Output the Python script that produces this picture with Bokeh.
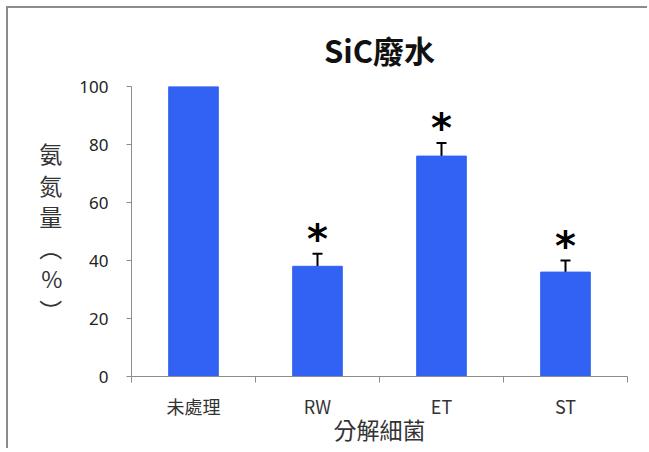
from bokeh.plotting import figure
from bokeh.models import FixedTicker, Whisker, ColumnDataSource, TeeHead, Range1d, Title
from bokeh.core.properties import value
from bokeh.embed import file_html
from bokeh.resources import INLINE

categories = ["未處理", "RW", "ET", "ST"]
values = [100, 38, 76, 36]
errors = [0, 4.3, 4.5, 4.0]
significant = [False, True, True, True]
y_ticks = [0, 20, 40, 60, 80, 100]

xs = [i + 0.5 for i in range(len(categories))]
upper = [v + e for v, e in zip(values, errors)]
lower = [v - e for v, e in zip(values, errors)]

src = ColumnDataSource(dict(x=xs, top=values, upper=upper, lower=lower))
err_src = ColumnDataSource(dict(
    x=[x for x, e in zip(xs, errors) if e > 0],
    upper=[u for u, e in zip(upper, errors) if e > 0],
    lower=[l for l, e in zip(lower, errors) if e > 0],
))
star_src = ColumnDataSource(dict(
    x=[x for x, s in zip(xs, significant) if s],
    y=[u for u, s in zip(upper, significant) if s],
    t=["*" for s in significant if s],
))

p = figure(frame_width=496, frame_height=290, output_backend="svg", toolbar_location=None,
           x_range=Range1d(0, len(categories)), y_range=Range1d(0, 100),
           min_border_left=123, min_border_right=20, min_border_top=78,
           min_border_bottom=68)
p.styles = {"margin-left": "6px", "margin-top": "6px",
            "border-left": "2px solid #8c8c8c", "border-top": "2px solid #8c8c8c"}

p.title = Title(text="SiC廢水", align="center", text_font="Noto Sans CJK TC",
                text_font_size="31px", text_font_style="bold", text_color="#111111",
                standoff=29)

p.vbar(x="x", top="top", width=0.4, source=src, fill_color="#3162F4",
       line_color="#3162F4")

w = Whisker(base="x", upper="upper", lower="lower", source=err_src,
            line_color="black", line_width=2,
            upper_head=TeeHead(size=10, line_color="black", line_width=2),
            lower_head=TeeHead(size=8, line_color="black", line_width=2))
p.add_layout(w)

p.text(x="x", y="y", text="t", source=star_src, text_align="center",
       text_baseline="middle", text_font=value("DejaVu Sans"), text_font_style="bold",
       text_font_size="40px", text_color="black", y_offset=-15)

p.xgrid.visible = False
p.ygrid.visible = False
p.outline_line_color = None

xa = p.xaxis[0]
xa.ticker = FixedTicker(ticks=xs, minor_ticks=list(range(len(categories) + 1)))
xa.major_label_overrides = {x: c for x, c in zip(xs, categories)}
xa.major_tick_line_color = None
xa.minor_tick_in = 0
xa.minor_tick_out = 6
xa.minor_tick_line_color = "#8c8c8c"
xa.axis_line_color = "#8c8c8c"
xa.major_label_text_font = "Noto Sans CJK TC"
xa.major_label_text_font_size = "18px"
xa.major_label_text_color = "#333333"
xa.major_label_standoff = 10
xa.axis_label = "分解細菌"
xa.axis_label_text_font = "Noto Sans CJK TC"
xa.axis_label_text_font_size = "23px"
xa.axis_label_text_font_style = "normal"
xa.axis_label_text_color = "#333333"
xa.axis_label_standoff = -10

ya = p.yaxis[0]
ya.ticker = FixedTicker(ticks=y_ticks)
ya.minor_tick_line_color = None
ya.major_tick_in = 0
ya.major_tick_out = 5
ya.major_tick_line_color = "#8c8c8c"
ya.axis_line_color = "#8c8c8c"
ya.major_label_text_font = "Noto Sans"
ya.major_label_text_font_size = "17px"
ya.major_label_text_color = "#222222"
ya.major_label_standoff = 18
ya.axis_label = "氨\n氮\n量\n︵\n%\n︶"
ya.axis_label_orientation = "horizontal"
ya.axis_label_text_font = "Noto Sans CJK TC"
ya.axis_label_text_font_size = "23px"
ya.axis_label_text_font_style = "normal"
ya.axis_label_text_color = "#333333"
ya.axis_label_text_line_height = 0.92
ya.axis_label_standoff = 14

open("out.html", "w").write(file_html(p, INLINE))
